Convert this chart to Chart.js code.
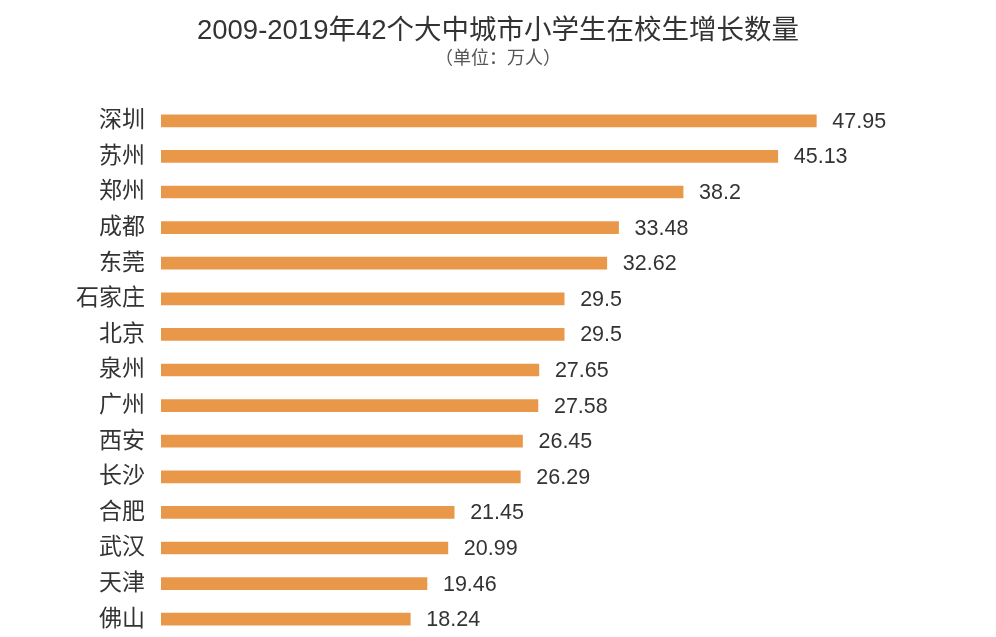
<!DOCTYPE html>
<html>
<head>
<meta charset="utf-8">
<script src="https://cdn.jsdelivr.net/npm/chart.js@4"></script>
<style>
  html, body { margin: 0; padding: 0; background: #fff; overflow: hidden; }
  canvas { display: block; }
</style>
</head>
<body>
<canvas id="growthChart" width="996" height="637"></canvas>
<script>
const cities = ['深圳', '苏州', '郑州', '成都', '东莞', '石家庄', '北京', '泉州', '广州', '西安', '长沙', '合肥', '武汉', '天津', '佛山'];
const growth = [47.95, 45.13, 38.2, 33.48, 32.62, 29.5, 29.5, 27.65, 27.58, 26.45, 26.29, 21.45, 20.99, 19.46, 18.24];
const valueLabels = ['47.95', '45.13', '38.2', '33.48', '32.62', '29.5', '29.5', '27.65', '27.58', '26.45', '26.29', '21.45', '20.99', '19.46', '18.24'];
const titleText = '2009-2019年42个大中城市小学生在校生增长数量';
const subtitleText = '（单位：万人）';

const FONT = "'Liberation Sans', 'Noto Sans CJK SC', sans-serif";

// title + unit line, centred on the whole canvas
const headerPlugin = {
    id: 'header',
    afterDraw(chart) {
        const ctx = chart.ctx;
        const cx = chart.width / 2;
        ctx.save();
        ctx.textAlign = 'center';
        ctx.textBaseline = 'middle';
        ctx.fillStyle = '#333';
        ctx.font = '27.5px ' + FONT;
        ctx.fillText(titleText, cx, 31);
        ctx.fillStyle = '#555';
        ctx.font = '18px ' + FONT;
        ctx.fillText(subtitleText, cx, 59);
        ctx.restore();
    }
};

// draws the number to the right of every bar
const valueLabelPlugin = {
    id: 'valueLabels',
    afterDatasetsDraw(chart) {
        const ctx = chart.ctx;
        const meta = chart.getDatasetMeta(0);
        ctx.save();
        ctx.font = '21.5px ' + FONT;
        ctx.fillStyle = '#333';
        ctx.textAlign = 'left';
        ctx.textBaseline = 'middle';
        meta.data.forEach((bar, i) => {
            ctx.fillText(valueLabels[i], bar.x + 16, bar.y + 1);
        });
        ctx.restore();
    }
};

const data = {
    labels: cities,
    datasets: [{
        data: growth,
        backgroundColor: '#E99749',
        borderWidth: 0,
        barThickness: 12
    }]
};

const config = {
    type: 'bar',
    data: data,
    options: {
        indexAxis: 'y',
        responsive: false,
        animation: false,
        layout: {
            padding: { left: 0, right: 97, top: 103, bottom: 0 }
        },
        scales: {
            x: {
                display: false,
                min: 0,
                max: 54
            },
            y: {
                grid: { display: false },
                border: { display: false },
                ticks: {
                    color: '#333',
                    padding: 8,
                    font: { family: FONT, size: 23 }
                },
                afterFit(scale) {
                    scale.width = 161;
                    // don't let the label heights shrink the plot area
                    scale.paddingTop = 0;
                    scale.paddingBottom = 0;
                }
            }
        },
        plugins: {
            legend: { display: false },
            tooltip: { enabled: false },
            title: { display: false }
        }
    },
    plugins: [headerPlugin, valueLabelPlugin]
};

new Chart(document.getElementById('growthChart'), config);
</script>
</body>
</html>
